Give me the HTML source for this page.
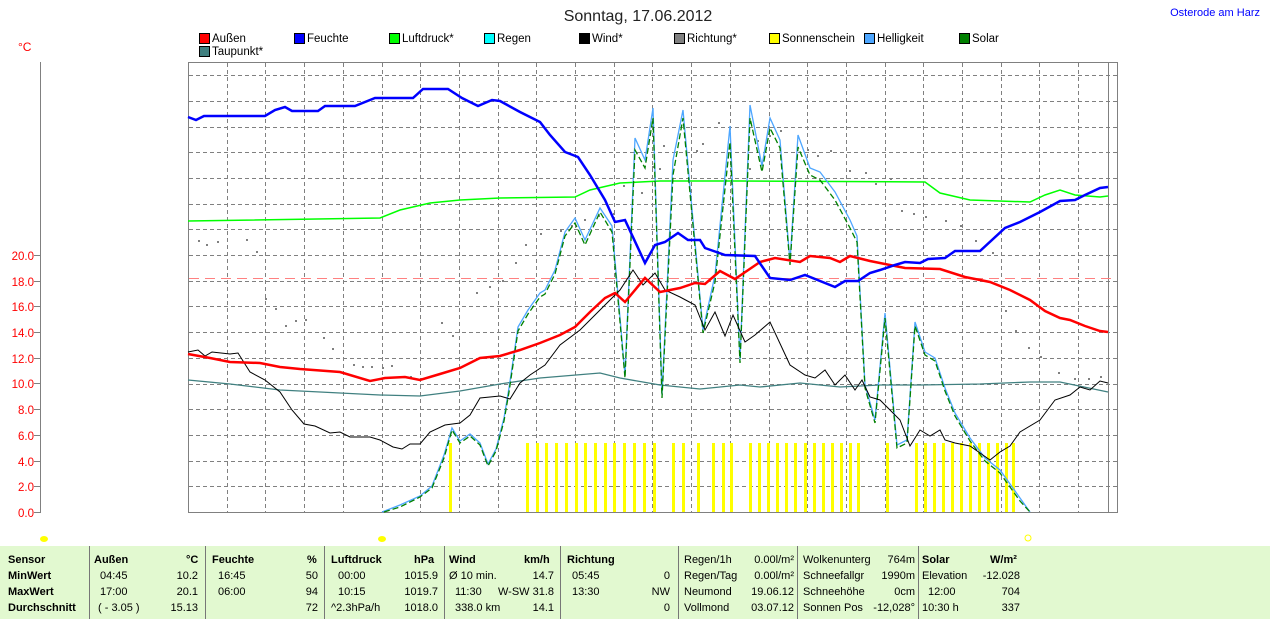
<!DOCTYPE html>
<html><head><meta charset="utf-8"><style>
body{margin:0;background:#fff;width:1270px;height:619px;overflow:hidden;font-family:"Liberation Sans",sans-serif}
svg{position:absolute;left:0;top:0}
#tbl{position:absolute;left:0;top:546px;width:1270px;height:73px;background:#e2f9d0;font-size:11px}
.c{position:absolute;white-space:nowrap}
.b{font-weight:bold}
.sep{position:absolute;top:0;width:1px;height:73px;background:#777}
</style></head><body>
<svg width="1270" height="619" font-family="Liberation Sans, sans-serif">
<text x="638" y="21" font-size="16" text-anchor="middle" fill="#222">Sonntag, 17.06.2012</text>
<text x="1260" y="16" font-size="11" text-anchor="end" fill="#0000ff">Osterode am Harz</text>
<text x="18" y="51" font-size="12" fill="#f00">°C</text>
<g font-size="11.5" fill="#000">
<rect x="199.5" y="33.5" width="10" height="10" fill="#f00" stroke="#000"/><text x="212" y="42">Außen</text>
<rect x="294.5" y="33.5" width="10" height="10" fill="#00f" stroke="#000"/><text x="307" y="42">Feuchte</text>
<rect x="389.5" y="33.5" width="10" height="10" fill="#0f0" stroke="#000"/><text x="402" y="42">Luftdruck*</text>
<rect x="484.5" y="33.5" width="10" height="10" fill="#0ff" stroke="#000"/><text x="497" y="42">Regen</text>
<rect x="579.5" y="33.5" width="10" height="10" fill="#000" stroke="#000"/><text x="592" y="42">Wind*</text>
<rect x="674.5" y="33.5" width="10" height="10" fill="#808080" stroke="#000"/><text x="687" y="42">Richtung*</text>
<rect x="769.5" y="33.5" width="10" height="10" fill="#ff0" stroke="#000"/><text x="782" y="42">Sonnenschein</text>
<rect x="864.5" y="33.5" width="10" height="10" fill="#4da6ff" stroke="#000"/><text x="877" y="42">Helligkeit</text>
<rect x="959.5" y="33.5" width="10" height="10" fill="#008000" stroke="#000"/><text x="972" y="42">Solar</text>
<rect x="199.5" y="46.5" width="10" height="10" fill="#408080" stroke="#000"/><text x="212" y="55">Taupunkt*</text>
</g>
<line x1="40.5" y1="62" x2="40.5" y2="513" stroke="#808080"/>
<g stroke="#808080"><line x1="34" x2="40" y1="512.5" y2="512.5"/><line x1="34" x2="40" y1="486.5" y2="486.5"/><line x1="34" x2="40" y1="461.5" y2="461.5"/><line x1="34" x2="40" y1="435.5" y2="435.5"/><line x1="34" x2="40" y1="409.5" y2="409.5"/><line x1="34" x2="40" y1="383.5" y2="383.5"/><line x1="34" x2="40" y1="358.5" y2="358.5"/><line x1="34" x2="40" y1="332.5" y2="332.5"/><line x1="34" x2="40" y1="306.5" y2="306.5"/><line x1="34" x2="40" y1="281.5" y2="281.5"/><line x1="34" x2="40" y1="255.5" y2="255.5"/></g>
<g font-size="11.5" fill="#f00" text-anchor="end">
<text x="34" y="517">0.0</text><text x="34" y="491">2.0</text><text x="34" y="466">4.0</text><text x="34" y="440">6.0</text><text x="34" y="414">8.0</text><text x="34" y="388">10.0</text><text x="34" y="363">12.0</text><text x="34" y="337">14.0</text><text x="34" y="311">16.0</text><text x="34" y="286">18.0</text><text x="34" y="260">20.0</text>
</g>
<g stroke="#808080" stroke-dasharray="4,3" id="grid"></g>
<rect x="188.5" y="62.5" width="929" height="450" fill="none" stroke="#808080"/>
<line x1="1108.5" y1="62" x2="1108.5" y2="512" stroke="#808080"/>
<line x1="189" y1="278.5" x2="1115" y2="278.5" stroke="#ff8080" stroke-dasharray="10,6"/>
<g id="bars" fill="#ff0"></g>
<g id="dots" fill="#808080"></g>
<polyline fill="none" stroke="#0f0" stroke-width="1.5" points="188,221 380,218 400,210 430,203 460,200 500,198 575,197 590,190 620,183 660,181 740,181 925,182 940,193 970,200 1030,202 1045,195 1060,190 1075,195 1100,197 1108,196"/>
<polyline fill="none" stroke="#408080" stroke-width="1.3" points="188,380 230,384 280,390 320,392 380,395 420,396 460,391 500,384 540,378 600,373 620,378 660,385 700,389 720,387 740,385 760,387 800,383 840,387 880,385 920,385 980,384 1030,382 1060,382 1108,392"/>
<polyline fill="none" stroke="#4da6ff" stroke-width="1.3" points="382,512 400,505 420,496 432,486 444,455 452,428 460,441 470,434 480,443 488,464 496,449 504,418 509,388 518,327 528,310 540,293 545,290 555,270 565,232 575,218 585,240 600,208 612,226 625,375 635,138 645,160 653,108 662,395 673,160 683,110 703,330 715,275 730,126 740,360 750,105 762,166 770,118 780,140 790,262 798,135 810,168 820,172 835,192 850,220 857,236 865,385 875,420 885,313 897,445 907,440 915,322 925,352 935,358 945,388 955,413 970,438 985,458 1000,470 1020,498 1030,512"/>
<polyline fill="none" stroke="#008000" stroke-width="1.3" stroke-dasharray="6,3" points="384,512 400,507 420,497 432,488 444,458 452,430 460,443 470,436 480,445 488,466 496,451 504,421 509,392 518,331 528,314 540,297 545,294 555,274 565,236 575,223 585,245 600,212 612,232 625,378 635,150 645,168 653,118 662,398 673,175 683,118 703,333 715,282 730,142 740,363 750,118 762,172 770,128 780,148 790,265 798,147 810,175 820,180 835,200 850,228 857,242 865,388 875,423 885,318 897,448 907,443 915,326 925,355 935,361 945,391 955,416 970,441 985,461 1000,473 1020,501 1030,512"/>
<polyline fill="none" stroke="#000" stroke-width="1" points="188,352 198,350 205,356 212,352 230,354 238,353 250,372 265,380 280,392 292,410 304,424 315,426 330,433 340,432 350,437 370,437 380,440 393,447 402,449 410,444 420,444 430,432 445,425 460,423 470,415 480,398 500,396 510,399 520,383 530,375 545,365 560,345 580,330 600,310 620,290 633,270 643,285 655,273 665,290 680,297 695,305 705,330 715,312 725,336 733,315 745,342 755,335 770,322 790,365 805,375 815,378 825,370 835,385 845,375 855,390 862,380 870,397 880,400 890,410 900,420 910,446 920,430 930,436 940,430 945,440 955,443 970,446 990,460 1000,452 1010,446 1020,432 1040,420 1055,400 1070,395 1080,387 1090,390 1100,381 1108,383"/>
<polyline fill="none" stroke="#f00" stroke-width="2.5" points="188,354 210,358 230,362 260,363 280,367 300,369 340,372 370,381 385,378 405,377 420,380 440,374 460,368 480,358 500,356 520,350 540,343 560,335 575,327 590,312 605,298 615,293 625,302 645,278 660,292 680,288 695,283 705,284 720,271 735,279 760,262 775,258 800,262 810,256 830,258 840,262 850,256 870,261 890,265 905,268 940,269 965,277 990,282 1010,290 1030,300 1045,311 1060,318 1070,320 1085,326 1100,331 1108,332"/>
<polyline fill="none" stroke="#00f" stroke-width="2.5" points="188,117 196,120 204,116 265,116 275,110 285,107 292,111 318,111 325,106 355,106 375,98 413,98 423,89 448,89 462,98 478,106 492,100 500,101 520,112 540,122 550,135 565,152 578,157 590,175 605,200 615,222 625,220 645,263 655,245 665,242 678,233 688,240 700,240 705,248 725,255 755,256 770,278 790,280 805,275 835,287 845,281 858,281 870,273 880,270 895,265 905,262 920,263 928,259 945,258 955,251 980,251 1005,228 1020,222 1040,212 1060,201 1075,200 1085,195 1100,188 1108,187"/>
<ellipse cx="44" cy="539" rx="4" ry="3" fill="#ff0"/>
<ellipse cx="382" cy="539" rx="4" ry="3" fill="#ff0"/>
<circle cx="1028" cy="538" r="3" fill="none" stroke="#ff0"/>
</svg>
<div id="tbl">
<div class="sep" style="left:89px"></div><div class="sep" style="left:205px"></div><div class="sep" style="left:324px"></div><div class="sep" style="left:444px"></div><div class="sep" style="left:560px"></div><div class="sep" style="left:678px"></div><div class="sep" style="left:797px"></div><div class="sep" style="left:918px"></div>
<div class="c b" style="left:8px;top:8px">Sensor</div><div class="c b" style="left:8px;top:24px">MinWert</div><div class="c b" style="left:8px;top:40px">MaxWert</div><div class="c b" style="left:8px;top:56px">Durchschnitt</div>
<div class="c b" style="left:94px;top:8px">Außen</div><div class="c b" style="left:186px;top:8px">°C</div>
<div class="c" style="left:100px;top:24px">04:45</div><div class="c" style="right:1072px;top:24px">10.2</div>
<div class="c" style="left:100px;top:40px">17:00</div><div class="c" style="right:1072px;top:40px">20.1</div>
<div class="c" style="left:98px;top:56px">( - 3.05 )</div><div class="c" style="right:1072px;top:56px">15.13</div>
<div class="c b" style="left:212px;top:8px">Feuchte</div><div class="c b" style="left:307px;top:8px">%</div>
<div class="c" style="left:218px;top:24px">16:45</div><div class="c" style="right:952px;top:24px">50</div>
<div class="c" style="left:218px;top:40px">06:00</div><div class="c" style="right:952px;top:40px">94</div>
<div class="c" style="right:952px;top:56px">72</div>
<div class="c b" style="left:331px;top:8px">Luftdruck</div><div class="c b" style="left:414px;top:8px">hPa</div>
<div class="c" style="left:338px;top:24px">00:00</div><div class="c" style="right:832px;top:24px">1015.9</div>
<div class="c" style="left:338px;top:40px">10:15</div><div class="c" style="right:832px;top:40px">1019.7</div>
<div class="c" style="left:331px;top:56px">^2.3hPa/h</div><div class="c" style="right:832px;top:56px">1018.0</div>
<div class="c b" style="left:449px;top:8px">Wind</div><div class="c b" style="left:524px;top:8px">km/h</div>
<div class="c" style="left:449px;top:24px">Ø 10 min.</div><div class="c" style="right:716px;top:24px">14.7</div>
<div class="c" style="left:455px;top:40px">11:30</div><div class="c" style="right:716px;top:40px">W-SW 31.8</div>
<div class="c" style="left:455px;top:56px">338.0 km</div><div class="c" style="right:716px;top:56px">14.1</div>
<div class="c b" style="left:567px;top:8px">Richtung</div>
<div class="c" style="left:572px;top:24px">05:45</div><div class="c" style="right:600px;top:24px">0</div>
<div class="c" style="left:572px;top:40px">13:30</div><div class="c" style="right:600px;top:40px">NW</div>
<div class="c" style="right:600px;top:56px">0</div>
<div class="c" style="left:684px;top:8px">Regen/1h</div><div class="c" style="right:476px;top:8px">0.00l/m²</div>
<div class="c" style="left:684px;top:24px">Regen/Tag</div><div class="c" style="right:476px;top:24px">0.00l/m²</div>
<div class="c" style="left:684px;top:40px">Neumond</div><div class="c" style="right:476px;top:40px">19.06.12</div>
<div class="c" style="left:684px;top:56px">Vollmond</div><div class="c" style="right:476px;top:56px">03.07.12</div>
<div class="c" style="left:803px;top:8px">Wolkenunterg</div><div class="c" style="right:355px;top:8px">764m</div>
<div class="c" style="left:803px;top:24px">Schneefallgr</div><div class="c" style="right:355px;top:24px">1990m</div>
<div class="c" style="left:803px;top:40px">Schneehöhe</div><div class="c" style="right:355px;top:40px">0cm</div>
<div class="c" style="left:803px;top:56px">Sonnen Pos</div><div class="c" style="right:355px;top:56px">-12,028°</div>
<div class="c b" style="left:922px;top:8px">Solar</div><div class="c b" style="left:990px;top:8px">W/m²</div>
<div class="c" style="left:922px;top:24px">Elevation</div><div class="c" style="right:250px;top:24px">-12.028</div>
<div class="c" style="left:928px;top:40px">12:00</div><div class="c" style="right:250px;top:40px">704</div>
<div class="c" style="left:922px;top:56px">10:30 h</div><div class="c" style="right:250px;top:56px">337</div>
</div>
<script>
var ns="http://www.w3.org/2000/svg",g=document.getElementById("grid");
function ln(a,b,c,d){var l=document.createElementNS(ns,"line");l.setAttribute("x1",a);l.setAttribute("y1",b);l.setAttribute("x2",c);l.setAttribute("y2",d);g.appendChild(l);}
for(var i=1;i<24;i++){var x=Math.round(188+i*38.7)+0.5;ln(x,63,x,512);}
for(var j=1;j<=17;j++){var y=Math.round(512-j*25.7)+0.5;ln(189,y,1117,y);}
var bx=[450,527,537,546,556,566,576,585,595,605,614,624,634,644,654,673,683,698,713,723,731,750,759,768,777,786,795,805,814,823,832,841,850,858,887,916,925,934,943,952,961,970,979,988,997,1006,1013];
var bg=document.getElementById("bars");
bx.forEach(function(x){var r=document.createElementNS(ns,"rect");r.setAttribute("x",x-1);r.setAttribute("y",443);r.setAttribute("width",3);r.setAttribute("height",69);bg.appendChild(r);});
var dots=[[198,240],[206,244],[217,241],[246,239],[256,251],[265,298],[275,308],[285,325],[295,320],[305,319],[323,337],[332,348],[353,364],[362,366],[371,366],[382,367],[391,365],[410,376],[420,378],[441,322],[452,335],[476,292],[489,286],[502,280],[515,262],[525,244],[540,233],[560,230],[571,225],[584,219],[598,215],[613,213],[623,185],[641,192],[652,166],[659,168],[663,145],[696,150],[702,143],[718,122],[749,168],[757,140],[769,135],[780,130],[807,149],[817,155],[830,150],[849,170],[865,172],[875,183],[890,178],[901,210],[913,213],[925,216],[945,220],[960,225],[975,240],[992,252],[1005,310],[1015,330],[1028,347],[1040,356],[1058,372],[1074,378],[1088,378],[1100,376]];
var dg=document.getElementById("dots");
dots.forEach(function(p){var r=document.createElementNS(ns,"rect");r.setAttribute("x",p[0]);r.setAttribute("y",p[1]);r.setAttribute("width",2);r.setAttribute("height",2);dg.appendChild(r);});
</script>
</body></html>
